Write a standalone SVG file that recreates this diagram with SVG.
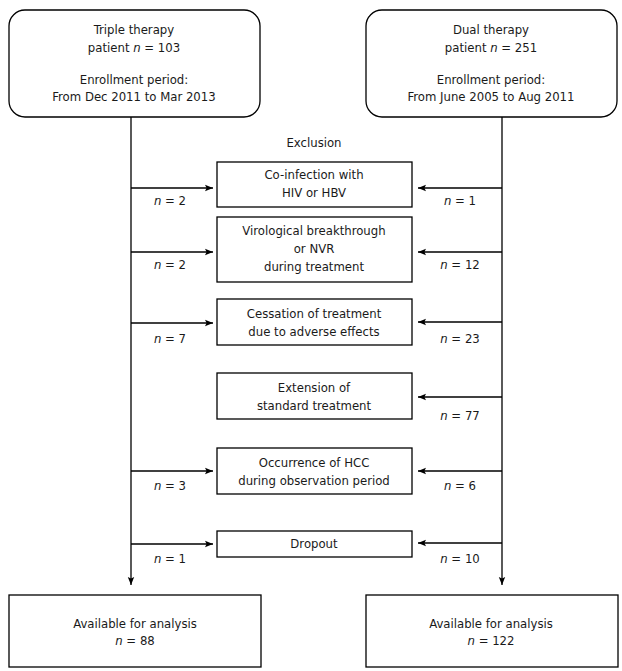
<svg xmlns="http://www.w3.org/2000/svg" width="622" height="671" viewBox="0 0 622 671">
<defs>
<marker id="ah" viewBox="0 0 10 10" refX="10" refY="5" markerWidth="8" markerHeight="8" markerUnits="userSpaceOnUse" orient="auto">
<path d="M0,1 L10,5 L0,9 L2,5 Z" fill="#000"/>
</marker>
</defs>
<style>
text{font-family:"DejaVu Sans Condensed","DejaVu Sans",sans-serif;font-size:13px;fill:#1a1a1a;text-anchor:middle}
.i{font-style:italic}
.box{fill:#fff;stroke:#000;stroke-width:1.3}
.ln{fill:none;stroke:#000;stroke-width:1.3}
</style>
<rect width="622" height="671" fill="#fff"/>
<g id="triple">
<rect class="box" x="9" y="10" width="251" height="107" rx="16"/>
<text x="134" y="34">Triple therapy</text>
<text x="134" y="52">patient <tspan class="i">n</tspan> = 103</text>
<text x="134" y="84">Enrollment period:</text>
<text x="134" y="101">From Dec 2011 to Mar 2013</text>
</g>
<g id="dual">
<rect class="box" x="366" y="10" width="251" height="107" rx="16"/>
<text x="491" y="34">Dual therapy</text>
<text x="491" y="52">patient <tspan class="i">n</tspan> = 251</text>
<text x="491" y="84">Enrollment period:</text>
<text x="491" y="101">From June 2005 to Aug 2011</text>
</g>
<g id="exclusion">
<text x="314" y="147">Exclusion</text>
</g>
<g id="coinf">
<rect class="box" x="217" y="162" width="195" height="45"/>
<text x="314" y="179">Co-infection with</text>
<text x="314" y="197">HIV or HBV</text>
</g>
<g id="viro">
<rect class="box" x="217" y="217" width="195" height="65"/>
<text x="314" y="235">Virological breakthrough</text>
<text x="314" y="253">or NVR</text>
<text x="314" y="271">during treatment</text>
</g>
<g id="cess">
<rect class="box" x="217" y="299" width="195" height="46"/>
<text x="314" y="318">Cessation of treatment</text>
<text x="314" y="336">due to adverse effects</text>
</g>
<g id="ext">
<rect class="box" x="217" y="373" width="195" height="46"/>
<text x="314" y="392">Extension of</text>
<text x="314" y="410">standard treatment</text>
</g>
<g id="hcc">
<rect class="box" x="217" y="448" width="195" height="46"/>
<text x="314" y="467">Occurrence of HCC</text>
<text x="314" y="485">during observation period</text>
</g>
<g id="dropout">
<rect class="box" x="217" y="531" width="195" height="26"/>
<text x="314" y="548">Dropout</text>
</g>
<g id="availL">
<rect class="box" x="9" y="595" width="252" height="72"/>
<text x="135" y="628">Available for analysis</text>
<text x="135" y="645"><tspan class="i">n</tspan> = 88</text>
</g>
<g id="availR">
<rect class="box" x="366" y="595" width="252" height="72"/>
<text x="491" y="628">Available for analysis</text>
<text x="491" y="645"><tspan class="i">n</tspan> = 122</text>
</g>
<g id="connectors">
<path class="ln" d="M131,117 V585" marker-end="url(#ah)"/>
<path class="ln" d="M502,117 V585" marker-end="url(#ah)"/>
<path class="ln" d="M131,188 H213" marker-end="url(#ah)"/>
<path class="ln" d="M131,252 H213" marker-end="url(#ah)"/>
<path class="ln" d="M131,323 H213" marker-end="url(#ah)"/>
<path class="ln" d="M131,471 H213" marker-end="url(#ah)"/>
<path class="ln" d="M131,544 H213" marker-end="url(#ah)"/>
<path class="ln" d="M502,188 H418" marker-end="url(#ah)"/>
<path class="ln" d="M502,252 H418" marker-end="url(#ah)"/>
<path class="ln" d="M502,322 H418" marker-end="url(#ah)"/>
<path class="ln" d="M502,397 H418" marker-end="url(#ah)"/>
<path class="ln" d="M502,471 H418" marker-end="url(#ah)"/>
<path class="ln" d="M502,543 H418" marker-end="url(#ah)"/>
</g>
<g id="labels">
<text x="170" y="205"><tspan class="i">n</tspan> = 2</text>
<text x="170" y="269"><tspan class="i">n</tspan> = 2</text>
<text x="170" y="343"><tspan class="i">n</tspan> = 7</text>
<text x="170" y="490"><tspan class="i">n</tspan> = 3</text>
<text x="170" y="563"><tspan class="i">n</tspan> = 1</text>
<text x="460" y="205"><tspan class="i">n</tspan> = 1</text>
<text x="460" y="269"><tspan class="i">n</tspan> = 12</text>
<text x="460" y="343"><tspan class="i">n</tspan> = 23</text>
<text x="460" y="420"><tspan class="i">n</tspan> = 77</text>
<text x="460" y="490"><tspan class="i">n</tspan> = 6</text>
<text x="460" y="563"><tspan class="i">n</tspan> = 10</text>
</g>
</svg>
